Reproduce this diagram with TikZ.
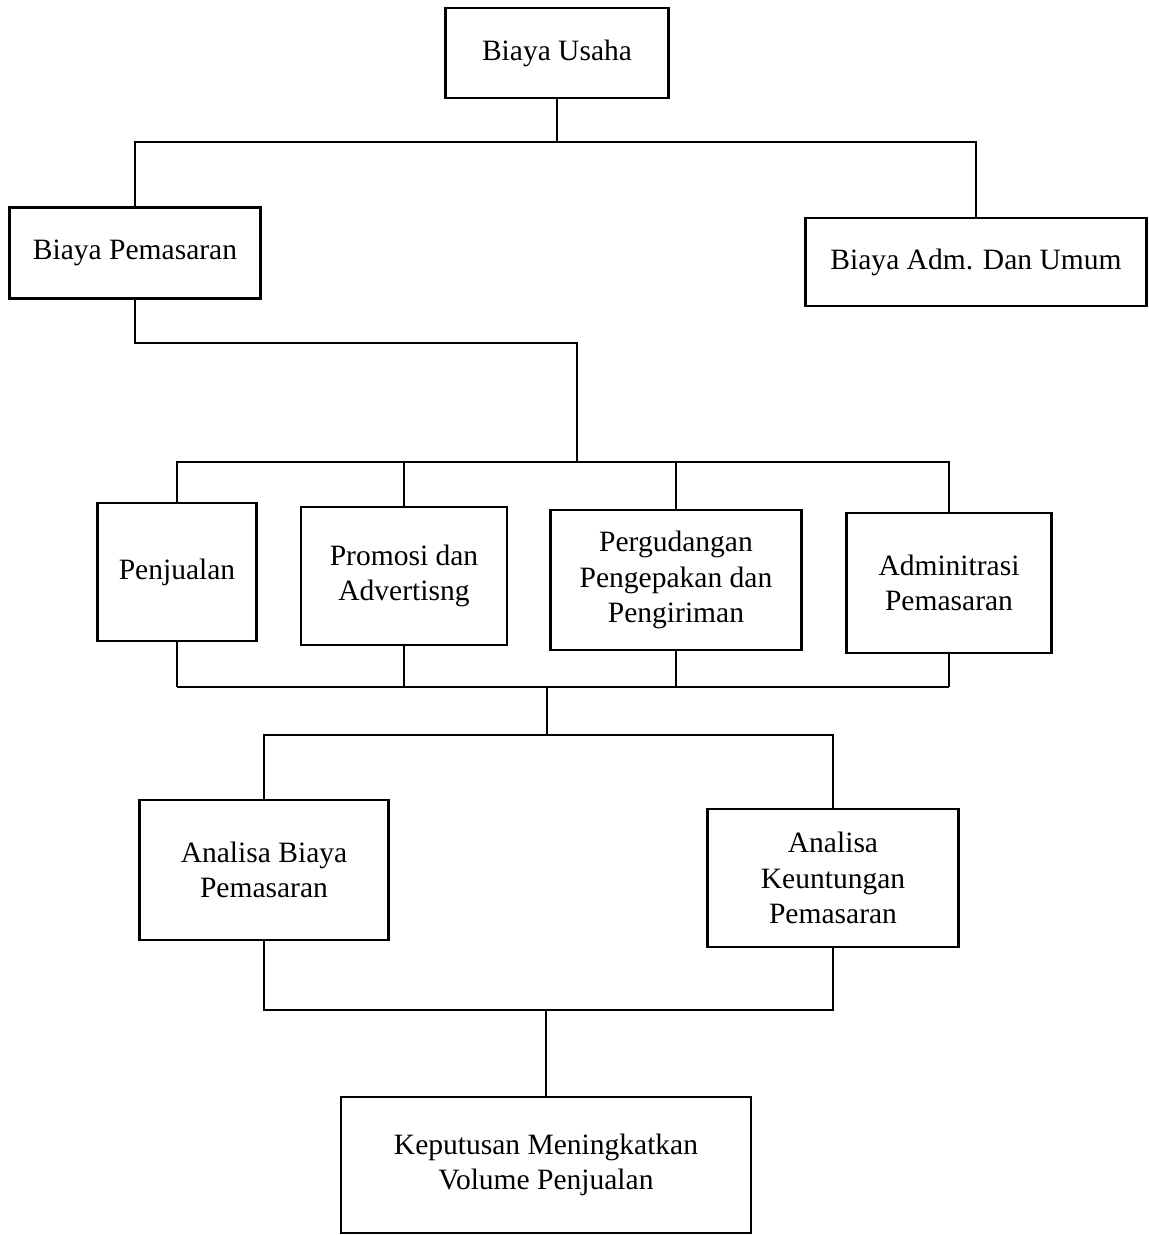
\documentclass[tikz,border=0pt]{standalone}
\usepackage{fontspec}
\setmainfont{Liberation Serif}
\begin{document}
\begin{tikzpicture}[x=0.02cm,y=-0.02cm,
    box/.style 2 args={draw, line width=1.4pt, align=center, inner sep=2pt,
        minimum width=#1*0.02cm, minimum height=#2*0.02cm,
        font=\fontsize{16.8}{20}\selectfont},
    line width=1.3pt]
    \useasboundingbox (0,0) rectangle (1149,1235);
    % boxes
    \node[box={223}{90}] (usaha) at (557,53) {Biaya Usaha};
    \node[box={251}{91}] (pemasaran) at (135,253) {Biaya Pemasaran};
    \node[box={341}{88}] (adm) at (976,262) {Biaya Adm. Dan Umum};
    \node[box={159}{138}] (penjualan) at (177,572) {Penjualan};
    \node[box={206}{138}] (promosi) at (404,576) {Promosi dan\\Advertisng};
    \node[box={251}{140}] (gudang) at (676,580) {Pergudangan\\Pengepakan dan\\Pengiriman};
    \node[box={205}{140}] (admpem) at (949,583) {Adminitrasi\\Pemasaran};
    \node[box={249}{140}] (anbiaya) at (264,870) {Analisa Biaya\\Pemasaran};
    \node[box={251}{138}] (anuntung) at (833,878) {Analisa\\Keuntungan\\Pemasaran};
    \node[box={410}{136}] (keputusan) at (546,1165) {Keputusan Meningkatkan\\Volume Penjualan};
    % junctions
    \coordinate (top) at (557,142);
    \coordinate (j1) at (577,343);
    \coordinate (j2) at (577,462);
    \coordinate (j3) at (547,687);
    \coordinate (j4) at (547,735);
    \coordinate (j5) at (546,1010);
    % connectors
    \draw (usaha.south) -- (top);
    \draw (pemasaran.north) |- (top) -| (adm.north);
    \draw (pemasaran.south) |- (j1) -- (j2);
    \draw (penjualan.north) |- (j2) -| (admpem.north);
    \foreach \n in {promosi, gudang}{
        \draw (\n.north) -- (\n.north |- j2);
    }
    \foreach \n in {penjualan, promosi, gudang, admpem}{
        \draw (\n.south) -- (\n.south |- j3);
    }
    \draw (penjualan.south |- j3) -- (admpem.south |- j3);
    \draw (j3) -- (j4);
    \draw (anbiaya.north) |- (j4) -| (anuntung.north);
    \draw (anbiaya.south) |- (j5) -| (anuntung.south);
    \draw (j5) -- (keputusan.north);
\end{tikzpicture}
\end{document}
